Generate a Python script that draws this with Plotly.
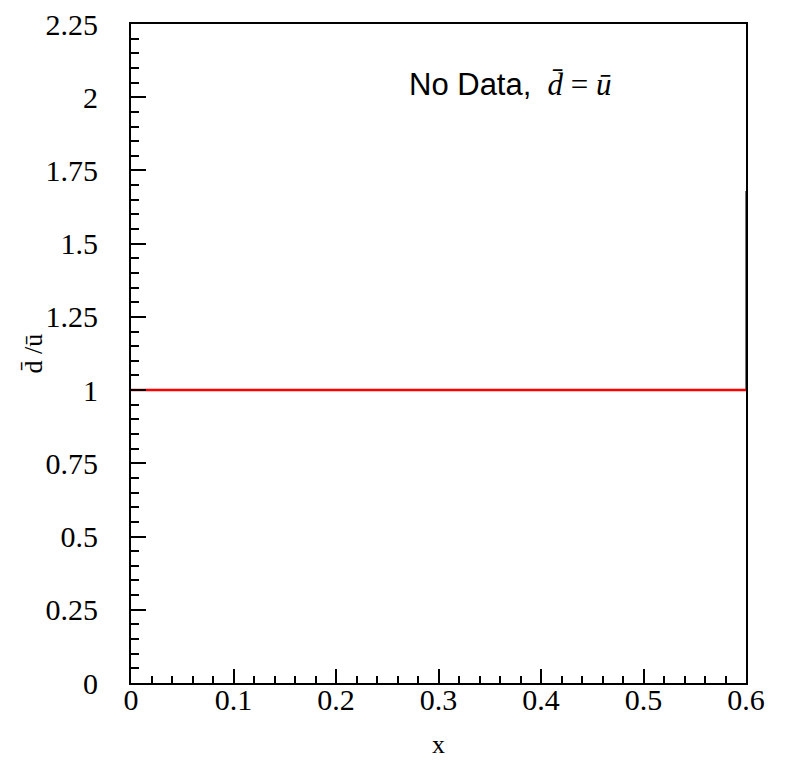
import plotly.graph_objects as go

# data
line_x = [0.0, 0.6]
line_y = [1.0, 1.0]
edge_x = [0.6, 0.6]
edge_y = [1.0, 1.68]
x_ticks = [0, 0.1, 0.2, 0.3, 0.4, 0.5, 0.6]
x_tick_labels = ["0", "0.1", "0.2", "0.3", "0.4", "0.5", "0.6"]
y_ticks = [0, 0.25, 0.5, 0.75, 1, 1.25, 1.5, 1.75, 2, 2.25]
y_tick_labels = ["0", "0.25", "0.5", "0.75", "1", "1.25", "1.5", "1.75", "2", "2.25"]

serif = "Liberation Serif, Times New Roman, serif"

fig = go.Figure()
fig.add_trace(go.Scatter(x=edge_x, y=edge_y, mode="lines",
                         line=dict(color="#777777", width=2), showlegend=False))
fig.add_trace(go.Scatter(x=line_x, y=line_y, mode="lines",
                         line=dict(color="#ff0000", width=2.5), showlegend=False))

axis_common = dict(showgrid=False, zeroline=False, showline=True, linecolor="black",
                   linewidth=2, mirror=True, ticks="inside", tickcolor="black",
                   tickwidth=2, automargin=False, ticklabeloverflow="allow",
                   tickfont=dict(family=serif, size=30, color="black"))

fig.update_xaxes(range=[0, 0.6], tickvals=x_ticks, ticktext=x_tick_labels,
                 ticklen=14, ticklabelstandoff=-11,
                 minor=dict(dtick=0.02, ticks="inside", ticklen=7, tickwidth=2, tickcolor="black"),
                 **axis_common)
fig.update_yaxes(range=[0, 2.25], tickvals=y_ticks, ticktext=y_tick_labels,
                 ticklen=15, ticklabelstandoff=25,
                 minor=dict(dtick=0.05, ticks="inside", ticklen=8, tickwidth=2, tickcolor="black"),
                 **axis_common)

# axis titles
fig.add_annotation(x=0.3, y=0, xref="x", yref="paper", xanchor="center", yanchor="middle",
                   yshift=-61, showarrow=False, text="x",
                   font=dict(family=serif, size=26, color="black"))
fig.add_annotation(x=0, y=0.5, xref="paper", yref="paper", xanchor="center", yanchor="middle",
                   xshift=-98, textangle=-90, showarrow=False, text="d\u0304 /u\u0304",
                   font=dict(family=serif, size=26, color="black"))

fig.add_annotation(
    x=0.3697, y=2.05, xref="x", yref="y", xanchor="center", yanchor="middle",
    showarrow=False,
    text=("<span style='font-family:Liberation Sans, Arial'>No Data,</span>&nbsp;&nbsp;"
          "<span style='font-family:Liberation Serif, Times New Roman'><i>d\u0304</i> = <i>u\u0304</i></span>"),
    font=dict(size=31, color="black"),
)

fig.update_layout(width=787, height=761, margin=dict(l=123, r=49, t=16, b=86),
                  paper_bgcolor="white", plot_bgcolor="white")
fig.write_html("out.html")
